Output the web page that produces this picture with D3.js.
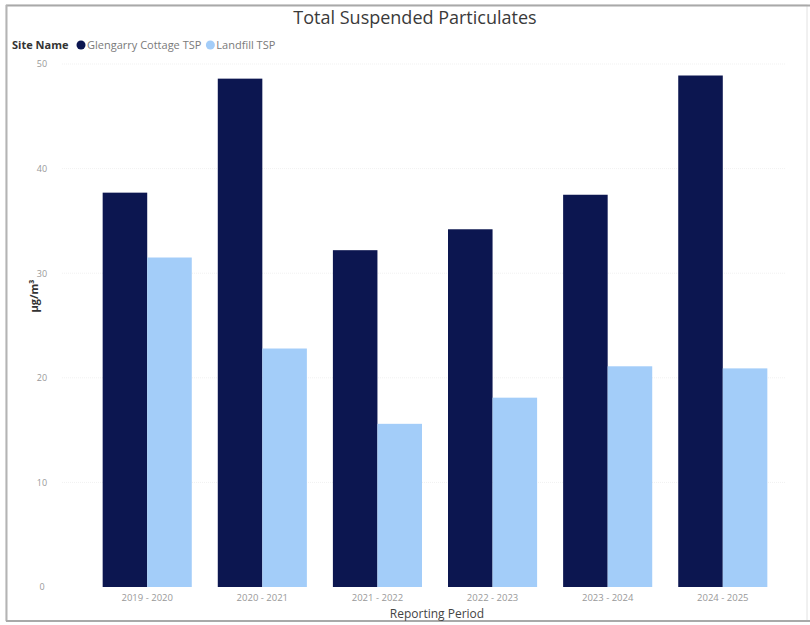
<!DOCTYPE html>
<html>
<head>
<meta charset="utf-8">
<script src="https://cdn.jsdelivr.net/npm/d3@7"></script>
<style>
  html, body { margin: 0; padding: 0; background: #fff; }
  svg { display: block; }
</style>
</head>
<body>
<svg id="chart" width="810" height="625"></svg>
<script>
// Reporting periods and annual average TSP per site (µg/m³)
const periods = ["2019 - 2020", "2020 - 2021", "2021 - 2022", "2022 - 2023", "2023 - 2024", "2024 - 2025"];
const seriesNames = ["Glengarry Cottage TSP", "Landfill TSP"];
const glengarry = [37.7, 48.6, 32.2, 34.2, 37.5, 48.9];
const landfill = [31.5, 22.8, 15.6, 18.1, 21.1, 20.9];
const yTicks = [0, 10, 20, 30, 40, 50];
const colors = ["#0c1650", "#a3cdf9"];

const svg = d3.select("#chart");
const font = "'Open Sans', 'Noto Sans', sans-serif";

// outer frame
svg.append("rect")
  .attr("x", 6).attr("y", 5).attr("width", 801).attr("height", 616)
  .attr("fill", "none").attr("stroke", "#e2e2e2").attr("stroke-width", 1);
svg.append("line").attr("x1", 6).attr("x2", 810).attr("y1", 5.5).attr("y2", 5.5)
  .attr("stroke", "#a9a9a9").attr("stroke-width", 2);
svg.append("line").attr("x1", 6.5).attr("x2", 6.5).attr("y1", 5).attr("y2", 621)
  .attr("stroke", "#b4b4b4").attr("stroke-width", 2);
svg.append("line").attr("x1", 6).attr("x2", 810).attr("y1", 621).attr("y2", 621)
  .attr("stroke", "#a9a9a9").attr("stroke-width", 2);

// title
svg.append("text")
  .attr("x", 415).attr("y", 24)
  .attr("text-anchor", "middle")
  .attr("font-family", font).attr("font-size", 18)
  .attr("fill", "#3a3a3a")
  .text("Total Suspended Particulates");

// legend
const legend = svg.append("g").attr("font-family", font).attr("font-size", 11);
legend.append("text").attr("x", 12).attr("y", 49)
  .attr("font-weight", "bold").attr("fill", "#333").text("Site Name");
let lx = 76;
seriesNames.forEach((name, i) => {
  legend.append("circle").attr("cx", lx + 5).attr("cy", 45).attr("r", 4.5).attr("fill", colors[i]);
  const t = legend.append("text").attr("x", lx + 11).attr("y", 49)
    .attr("fill", "#7a7a7a").text(name);
  lx += 11 + t.node().getComputedTextLength() + 4;
});

// scales
const x0 = d3.scaleBand().domain(periods).range([90, 780]).paddingInner(0.226).paddingOuter(0.11);
const x1 = d3.scaleBand().domain(seriesNames).range([0, x0.bandwidth()]);
const y = d3.scaleLinear().domain([0, 50]).range([587, 64]);

// gridlines
svg.append("g")
  .selectAll("line").data(yTicks.filter(d => d > 0)).join("line")
  .attr("x1", 62).attr("x2", 785)
  .attr("y1", d => y(d)).attr("y2", d => y(d))
  .attr("stroke", "#f1f1f1").attr("stroke-width", 1).attr("stroke-dasharray", "1,1");

// y axis labels
const yAxis = svg.append("g")
  .attr("transform", "translate(46,0)")
  .call(d3.axisLeft(y).tickValues(yTicks).tickSize(0).tickPadding(0));
yAxis.select(".domain").remove();
yAxis.selectAll("text")
  .attr("font-family", font).attr("font-size", 9).attr("fill", "#999")
  .attr("text-anchor", "middle").attr("dx", -4);

// y axis title
svg.append("text")
  .attr("transform", "translate(38,296) rotate(-90)")
  .attr("text-anchor", "middle")
  .attr("font-family", font).attr("font-size", 11).attr("font-weight", "bold").attr("fill", "#333")
  .text("µg/m³");

// bars
const rows = periods.map((p, i) => ({ period: p, values: [glengarry[i], landfill[i]] }));
const groups = svg.append("g").selectAll("g").data(rows).join("g")
  .attr("transform", d => `translate(${x0(d.period)},0)`);
groups.selectAll("rect")
  .data(d => d.values.map((v, i) => ({ name: seriesNames[i], value: v, i })))
  .join("rect")
  .attr("x", d => x1(d.name))
  .attr("width", x1.bandwidth())
  .attr("y", d => y(d.value))
  .attr("height", d => y(0) - y(d.value))
  .attr("fill", d => colors[d.i]);

// x axis
const xAxis = svg.append("g")
  .attr("transform", "translate(0,591)")
  .call(d3.axisBottom(x0).tickSize(0).tickPadding(3));
xAxis.select(".domain").remove();
xAxis.selectAll("text")
  .attr("font-family", font).attr("font-size", 9.5).attr("fill", "#999");

// x axis title
svg.append("text")
  .attr("x", 437).attr("y", 618)
  .attr("text-anchor", "middle")
  .attr("font-family", font).attr("font-size", 12).attr("fill", "#444")
  .text("Reporting Period");
</script>
</body>
</html>
